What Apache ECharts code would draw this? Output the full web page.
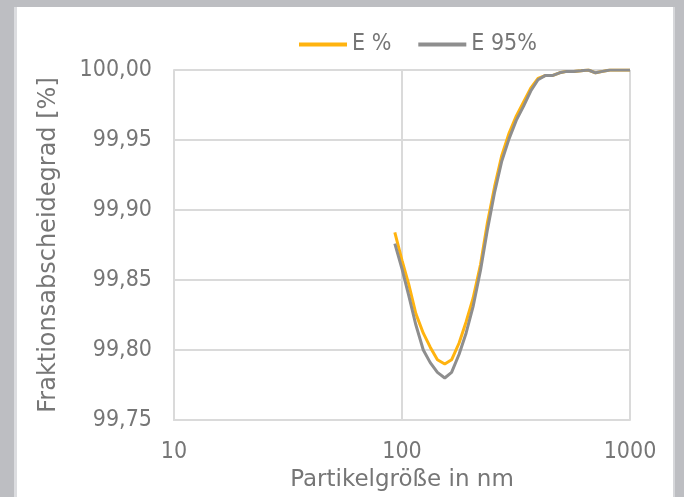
<!DOCTYPE html>
<html>
<head>
<meta charset="utf-8">
<script src="https://cdn.jsdelivr.net/npm/echarts@6/dist/echarts.min.js"></script>
<style>
  html, body { margin: 0; padding: 0; width: 684px; height: 497px; overflow: hidden; background: #bdbec2; }
  #frame { position: absolute; left: 14px; top: 7px; width: 656px; height: 490px; background: #fff;
           border-left: 3px solid #dcdde0; border-right: 2px solid #d6d7da; }
  #chart { position: absolute; left: 0; top: 0; width: 684px; height: 497px; }
</style>
</head>
<body>
<div id="frame"></div>
<div id="chart"></div>
<script>
const particleSize = [93, 100, 107, 115, 124, 133, 143, 154, 165, 178, 191, 205, 221, 237, 255, 274, 295, 317, 341, 367, 395, 424, 456, 491, 528, 567, 610, 656, 706, 759, 816, 877, 943, 1000];
const ePercent = [99.884, 99.864, 99.847, 99.826, 99.812, 99.802, 99.793, 99.790, 99.793, 99.805, 99.820, 99.837, 99.861, 99.891, 99.917, 99.939, 99.955, 99.967, 99.977, 99.987, 99.994, 99.996, 99.996, 99.998, 99.999, 99.999, 99.9995, 100.0, 99.998, 99.999, 100.0, 100.0, 100.0, 100.0];
const e95 = [99.876, 99.858, 99.839, 99.818, 99.800, 99.791, 99.784, 99.780, 99.784, 99.797, 99.812, 99.831, 99.857, 99.886, 99.913, 99.935, 99.951, 99.964, 99.974, 99.985, 99.993, 99.996, 99.996, 99.998, 99.999, 99.999, 99.9995, 100.0, 99.998, 99.999, 100.0, 100.0, 100.0, 100.0];
const seriesNames = ['E %', 'E 95%'];
const xAxisName = 'Partikelgröße in nm';
const yAxisName = 'Fraktionsabscheidegrad [%]';

const font = 'DejaVu Sans';
const condFont = 'DejaVu Sans Condensed';
const textColor = '#767676';
const gridColor = '#dadada';

const chart = echarts.init(document.getElementById('chart'), null, { renderer: 'canvas' });
chart.setOption({
  backgroundColor: 'transparent',
  animation: false,
  legend: {
    left: 294, top: 28,
    itemWidth: 48, itemHeight: 4, itemGap: 27,
    icon: 'rect',
    textStyle: { fontFamily: condFont, fontSize: 23, color: textColor },
    data: seriesNames
  },
  grid: { left: 174, right: 54, top: 70, bottom: 77 },
  xAxis: {
    type: 'log', logBase: 10, min: 10, max: 1000,
    name: xAxisName, nameLocation: 'middle', nameGap: 45,
    nameTextStyle: { fontFamily: font, fontSize: 23, color: textColor },
    axisLine: { show: true, lineStyle: { color: gridColor, width: 2 } },
    axisTick: { show: false },
    axisLabel: { fontFamily: condFont, fontSize: 23, color: textColor, margin: 21,
      formatter: v => String(Math.round(v)) },
    splitLine: { show: true, lineStyle: { color: gridColor, width: 2 } },
    minorTick: { show: false }, minorSplitLine: { show: false }
  },
  yAxis: {
    type: 'value', min: 99.75, max: 100, interval: 0.05,
    name: yAxisName, nameLocation: 'middle', nameGap: 113,
    nameTextStyle: { fontFamily: font, fontSize: 24, color: textColor },
    axisLine: { show: true, lineStyle: { color: gridColor, width: 2 } },
    axisTick: { show: false },
    axisLabel: { fontFamily: condFont, fontSize: 23, color: textColor, margin: 22,
      formatter: v => v.toFixed(2).replace('.', ',') },
    splitLine: { show: true, lineStyle: { color: gridColor, width: 2 } }
  },
  series: [
    { name: seriesNames[0], type: 'line', showSymbol: false, symbol: 'none',
      color: '#ffb30f', lineStyle: { width: 3, color: '#ffb30f' },
      data: particleSize.map((x, i) => [x, ePercent[i]]), z: 2 },
    { name: seriesNames[1], type: 'line', showSymbol: false, symbol: 'none',
      color: '#8e8e8e', lineStyle: { width: 3, color: '#8e8e8e' },
      data: particleSize.map((x, i) => [x, e95[i]]), z: 3 }
  ]
});
</script>
</body>
</html>
